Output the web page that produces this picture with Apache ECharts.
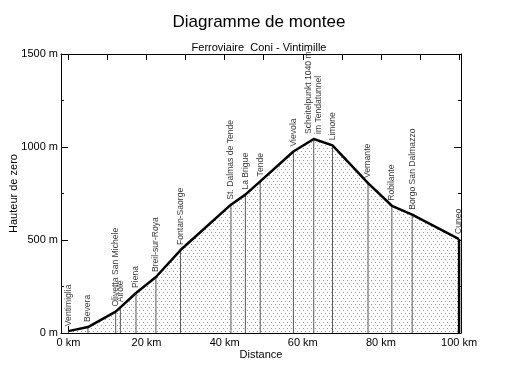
<!DOCTYPE html>
<html>
<head>
<meta charset="utf-8">
<script src="https://cdn.jsdelivr.net/npm/echarts@6/dist/echarts.min.js"></script>
<style>
html,body{margin:0;padding:0;background:#fff;}
#chart{width:518px;height:387px;}
</style>
</head>
<body>
<div id="chart"></div>
<script>
// ---- data ----
var stations = ['Ventimiglia','Bevera','Olivetta San Michele','Airole','Piena','Breil-sur-Roya','Fontan-Saorge','St. Dalmas de Tende','La Brigue','Tende','Vievola','Scheitelpunkt 1040 m\nim Tendatunnel','Limone','Vernante','Robilante','Borgo San Dalmazzo','Cuneo'];
var distanceKm = [0, 5, 12.1, 13.3, 17.3, 22.4, 28.7, 41.6, 45.3, 49.1, 57.6, 62.8, 67.6, 76.7, 82.8, 88.0, 100];
var heightM = [10, 32, 115, 138, 215, 301, 446, 690, 744, 815, 976, 1043, 1009, 806, 684, 636, 505];
var xLabelValues = [0, 20, 40, 60, 80, 100];
var xTickValues = [0, 10, 20, 30, 40, 50, 60, 70, 80, 90, 100];
var yLabelValues = [0, 500, 1000, 1500];

var FONT = 'Liberation Sans, Arial, Helvetica, sans-serif';

// dotted pattern
var pc = document.createElement('canvas');
pc.width = 8; pc.height = 6;
var pctx = pc.getContext('2d');
pctx.fillStyle = '#ffffff';
pctx.fillRect(0, 0, 8, 6);
pctx.fillStyle = '#a0a0a0';
pctx.fillRect(1, 1, 1, 1);
pctx.fillRect(5, 1, 1, 1);
pctx.fillRect(3, 4, 1, 1);
pctx.fillRect(7, 4, 1, 1);

var profile = distanceKm.map(function (d, i) { return [d, heightM[i]]; });
var last = distanceKm.length - 1;

var chart = echarts.init(document.getElementById('chart'), null, {renderer: 'canvas'});

var xMin = -1.9, xMax = 100.5;

chart.setOption({
  animation: false,
  backgroundColor: '#ffffff',
  textStyle: {fontFamily: FONT},
  title: [
    {text: 'Diagramme de montee', left: 'center', top: 9,
     textStyle: {fontFamily: FONT, fontSize: 17, fontWeight: 'normal', color: '#000'}},
    {text: 'Ferroviaire  Coni - Vintimille', left: 'center', top: 37,
     textStyle: {fontFamily: FONT, fontSize: 11, fontWeight: 'normal', color: '#000'}}
  ],
  grid: {left: 61, right: 57, top: 54, bottom: 54, containLabel: false, outerBoundsMode: 'none'},
  xAxis: [
    {
      type: 'value', min: xMin, max: xMax, position: 'bottom',
      axisLine: {show: true, onZero: false, lineStyle: {color: '#000', width: 1}},
      axisTick: {show: true, inside: true, length: 7, customValues: xLabelValues, lineStyle: {color: '#000'}},
      axisLabel: {show: true, customValues: xLabelValues, formatter: function (v) { return v + ' km'; }, fontSize: 11, color: '#000', margin: 4, fontFamily: FONT},
      splitLine: {show: false},
      name: 'Distance', nameLocation: 'middle', nameGap: 16, nameMoveOverlap: false,
      nameTextStyle: {fontSize: 11, color: '#000', fontFamily: FONT}
    },
    {
      type: 'value', min: xMin, max: xMax, position: 'bottom',
      axisLine: {show: false},
      axisTick: {show: true, inside: true, length: 4, customValues: xTickValues, lineStyle: {color: '#000'}},
      axisLabel: {show: false},
      splitLine: {show: false}
    },
    {
      type: 'value', min: xMin, max: xMax, position: 'top',
      axisLine: {show: true, onZero: false, lineStyle: {color: '#000', width: 1}},
      axisTick: {show: true, inside: true, length: 6, customValues: xTickValues, lineStyle: {color: '#000'}},
      axisLabel: {show: false},
      splitLine: {show: false}
    }
  ],
  yAxis: [
    {
      type: 'value', min: 0, max: 1500, interval: 500, position: 'left',
      axisLine: {show: true, onZero: false, lineStyle: {color: '#000', width: 1}},
      axisTick: {show: true, inside: true, length: 7, lineStyle: {color: '#000'}},
      minorTick: {show: true, splitNumber: 2, length: 3, lineStyle: {color: '#000'}},
      axisLabel: {show: true, customValues: yLabelValues, formatter: function (v) { return v + ' m'; }, fontSize: 11, color: '#000', margin: 3, fontFamily: FONT},
      splitLine: {show: false},
      minorSplitLine: {show: false},
      name: 'Hauteur de zero', nameLocation: 'middle', nameGap: 42, nameRotate: 90, nameMoveOverlap: false,
      nameTextStyle: {fontSize: 11, color: '#000', fontFamily: FONT}
    },
    {
      type: 'value', min: 0, max: 1500, interval: 500, position: 'right',
      axisLine: {show: true, onZero: false, lineStyle: {color: '#000', width: 1}},
      axisTick: {show: true, inside: true, length: 7, lineStyle: {color: '#000'}},
      minorTick: {show: true, splitNumber: 2, length: 3, lineStyle: {color: '#000'}},
      axisLabel: {show: false},
      splitLine: {show: false},
      minorSplitLine: {show: false}
    }
  ],
  series: [
    {
      name: 'fill', type: 'line', xAxisIndex: 0, yAxisIndex: 0, z: 1,
      data: profile, symbol: 'none',
      lineStyle: {width: 0, opacity: 0},
      areaStyle: {color: {image: pc, repeat: 'repeat'}, opacity: 1, origin: 'start'},
      silent: true
    },
    {
      name: 'stations', type: 'bar', xAxisIndex: 0, yAxisIndex: 0, z: 2,
      data: profile, barWidth: 1,
      itemStyle: {color: '#5a5a5a'},
      silent: true
    },
    {
      name: 'labels', type: 'scatter', xAxisIndex: 0, yAxisIndex: 0, z: 5,
      data: profile, symbolSize: 0,
      label: {
        show: true, position: 'top', rotate: 90, align: 'left', verticalAlign: 'middle',
        distance: 5, fontSize: 8.6, color: '#000', fontFamily: FONT, lineHeight: 10,
        formatter: function (p) { return stations[p.dataIndex]; }
      },
      labelLayout: {hideOverlap: false, moveOverlap: null},
      silent: true
    },
    {
      name: 'edge', type: 'line', xAxisIndex: 0, yAxisIndex: 0, z: 3,
      data: [[distanceKm[last], 0], [distanceKm[last], heightM[last]]],
      symbol: 'none', lineStyle: {color: '#000', width: 2.5}, silent: true
    },
    {
      name: 'profile', type: 'line', xAxisIndex: 0, yAxisIndex: 0, z: 4,
      data: profile, symbol: 'none',
      lineStyle: {color: '#000', width: 2.5, join: 'round'}, silent: true
    }
  ]
});
</script>
</body>
</html>
